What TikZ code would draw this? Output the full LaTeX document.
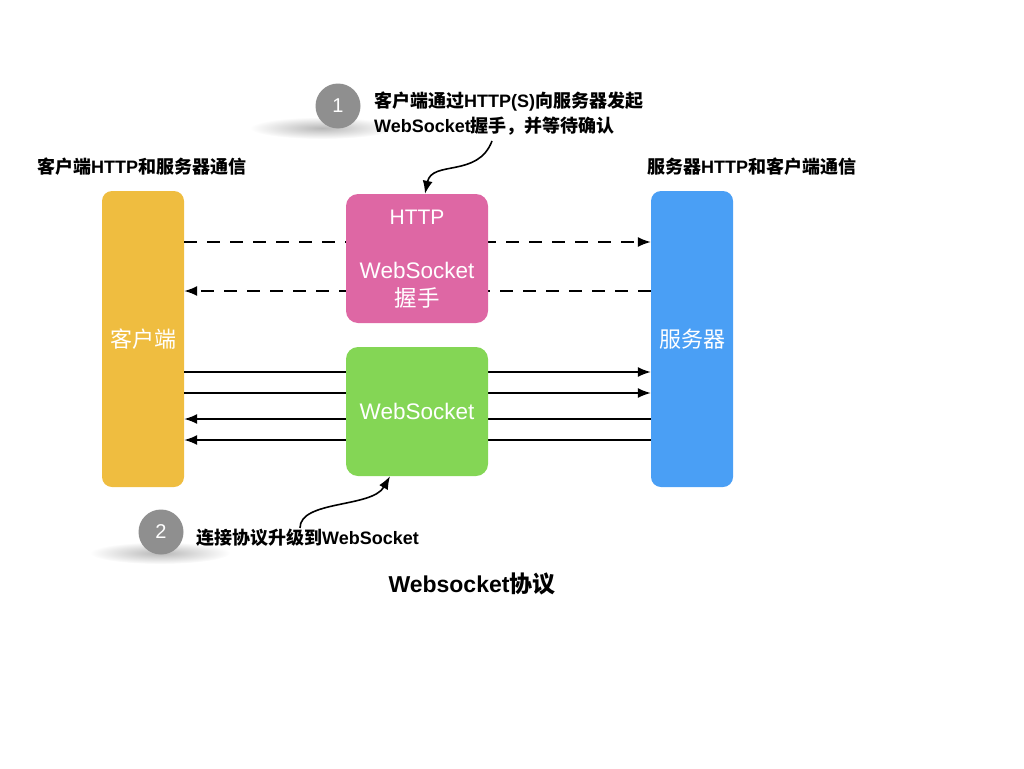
\documentclass[tikz,border=0pt]{standalone}
\usepackage{fontspec}
\setmainfont{Liberation Sans}
\newfontfamily\cjk{Noto Sans CJK SC}
\usetikzlibrary{arrows.meta,fadings}
\definecolor{cyellow}{HTML}{EFBD40}
\definecolor{cpink}{HTML}{DE67A4}
\definecolor{cblue}{HTML}{4A9FF5}
\definecolor{cgreen}{HTML}{84D655}
\definecolor{cgray}{HTML}{8F8F8F}
\newcommand{\zh}[1]{{\cjk #1}}
\tikzfading[name=softfade, inner color=transparent!0, outer color=transparent!100]
\tikzset{
  bar/.style={rounded corners=10pt, minimum width=82pt, minimum height=296pt, inner sep=0pt, text=white, font=\fontsize{22}{24}\selectfont},
  midbox/.style={rounded corners=12pt, minimum width=142pt, minimum height=129pt, inner sep=0pt, text=white, font=\fontsize{22.5}{24}\selectfont},
  lbl/.style={font=\bfseries\fontsize{18}{25}\selectfont, inner sep=0pt, anchor=west, align=left},
  num/.style={circle, fill=cgray, minimum size=45pt, inner sep=0pt, text=white, font=\fontsize{20}{20}\selectfont},
  arr/.style={line width=1.6pt, -{Latex[length=13pt,width=10pt]}},
  darr/.style={arr, dash pattern=on 13pt off 10pt},
  curv/.style={line width=1.6pt, -{Latex[length=13pt,width=10pt]}},
  shad/.style={fill=black!28, path fading=softfade},
}
\begin{document}
\begin{tikzpicture}[x=1pt,y=-1pt]
\useasboundingbox (0,0) rectangle (1024,768);
% shadows
\fill[shad] (322,128) ellipse (72pt and 11pt);
\fill[shad] (160,553) ellipse (70pt and 11pt);
% bars
\node[bar, fill=cyellow] (client) at (143,339) {\zh{客户端}};
\node[bar, fill=cblue] (server) at (692,339) {\zh{服务器}};
% header labels
\node[lbl] (lh) at (37,167) {\zh{客户端}HTTP\zh{和服务器通信}};
\node[lbl] (rh) at (647,167) {\zh{服务器}HTTP\zh{和客户端通信}};
% arrows (behind boxes)
\coordinate (a1l) at (client.east |- 0,242);
\coordinate (a1r) at (server.west |- 0,242);
\coordinate (a2l) at (client.east |- 0,291);
\coordinate (a2r) at (server.west |- 0,291);
\draw[darr] (a1l) -- (a1r);
\draw[darr] (a2r) -- (a2l);
\foreach \y in {372,393}{
  \draw[arr] (client.east |- 0,\y) -- (server.west |- 0,\y);
}
\foreach \y in {419,440}{
  \draw[arr] (server.west |- 0,\y) -- (client.east |- 0,\y);
}
% middle boxes
\node[midbox, fill=cpink] (hs) at (417,258.5) {};
\node[text=white, font=\fontsize{21}{22}\selectfont, inner sep=0pt] (hsa) at (417,217) {HTTP};
\node[text=white, font=\fontsize{22.5}{28}\selectfont, inner sep=0pt, align=center] (hsb) at (417,285) {WebSocket\\\zh{握手}};
\node[midbox, fill=cgreen] (ws) at (417,411.5) {WebSocket};
% step 1
\node[num] (n1) at (338,106) {1};
\node[lbl] (t1) at (374,113.5) {\zh{客户端通过}HTTP(S)\zh{向服务器发起}\\WebSocket\zh{握手，并等待确认}};
\coordinate (c1s) at (492,141);
\draw[curv] (c1s) .. controls (478,178) and (432,160) .. (hs.north -| 425,0);
% step 2
\node[num] (n2) at (161,532) {2};
\node[lbl] (t2) at (196,538) {\zh{连接协议升级到}WebSocket};
\coordinate (c2s) at (300,528);
\draw[curv] (c2s) .. controls (300,500) and (372,508) .. (ws.south -| 390,0);
% title
\node[font=\bfseries\fontsize{23}{26}\selectfont, inner sep=0pt] (title) at (472,584) {Websocket\zh{协议}};
\end{tikzpicture}
\end{document}
